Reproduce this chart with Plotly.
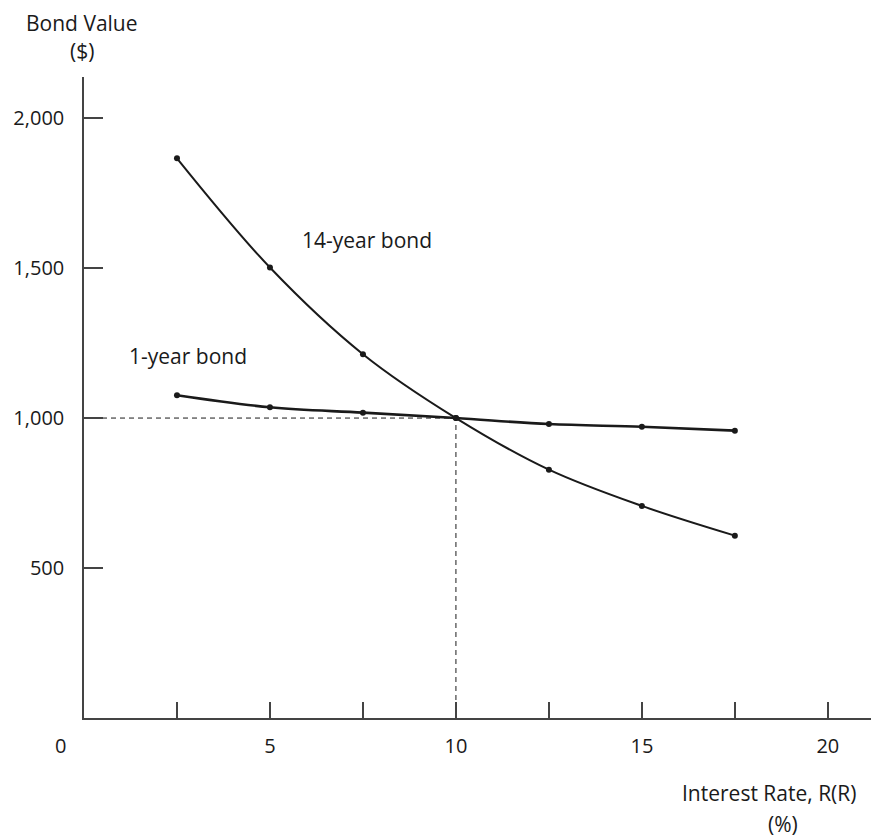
import plotly.graph_objects as go

rates = [2.5, 5, 7.5, 10, 12.5, 15, 17.5]
bond14 = [1866, 1502, 1213, 1000, 828, 707, 608]
bond1 = [1076, 1036, 1018, 1000, 980, 971, 958]

x_ticks = [2.5, 5, 7.5, 10, 12.5, 15, 17.5, 20]
x_ticktext = ["", "5", "", "10", "", "15", "", "20"]
y_ticks = [500, 1000, 1500, 2000]
y_ticktext = ["500", "1,000", "1,500", "2,000"]

par_rate = 10
par_value = 1000

FONT = "Open Sans"
INK = "#1a1a1a"
AX = "#444444"
TS = 20   # tick label size
LS = 21   # label size

# the page body adds an 8px offset; layout is expressed in figure pixels
OFF = 8
W, H = 881, 840
L, T = 84 - OFF, 77 - OFF
R = W - (871 - OFF)
B = H - (718 - OFF)

fig = go.Figure()

# dashed reference lines
fig.add_trace(go.Scatter(x=[0, par_rate], y=[par_value, par_value], mode="lines",
                         line=dict(color=INK, width=1, dash="5px,4px"),
                         hoverinfo="skip", showlegend=False))
fig.add_trace(go.Scatter(x=[par_rate, par_rate], y=[0, par_value], mode="lines",
                         line=dict(color=INK, width=1, dash="5px,4px"),
                         hoverinfo="skip", showlegend=False))

fig.add_trace(go.Scatter(x=rates, y=bond14, mode="lines+markers", name="14-year bond",
                         line=dict(color=INK, width=2, shape="spline", smoothing=1),
                         marker=dict(color=INK, size=6), showlegend=False))
fig.add_trace(go.Scatter(x=rates, y=bond1, mode="lines+markers", name="1-year bond",
                         line=dict(color=INK, width=2.6, shape="spline", smoothing=1),
                         marker=dict(color=INK, size=6), showlegend=False))

fig.update_layout(
    width=W, height=H,
    margin=dict(l=L, r=R, t=T, b=B),
    paper_bgcolor="white", plot_bgcolor="white",
    font=dict(family=FONT, size=TS, color=INK),
    xaxis=dict(range=[0, 21.16], showgrid=False, zeroline=False, automargin=False,
               showline=True, linecolor=AX, linewidth=1.5,
               ticks="inside", ticklen=16, tickwidth=1.5, tickcolor=AX,
               tickvals=x_ticks, ticktext=x_ticktext, ticklabelstandoff=9,
               tickfont=dict(family=FONT, size=TS, color=INK)),
    yaxis=dict(range=[0, 2137], showgrid=False, zeroline=False, automargin=False,
               showline=True, linecolor=AX, linewidth=1.5,
               ticks="inside", ticklen=19, tickwidth=1.5, tickcolor=AX,
               tickvals=y_ticks, ticktext=y_ticktext, ticklabelstandoff=14,
               tickfont=dict(family=FONT, size=TS, color=INK)),
    annotations=[
        dict(text="Bond Value", x=82, y=23, showarrow=False, font=dict(size=LS)),
        dict(text="($)", x=82, y=51, showarrow=False, font=dict(size=LS)),
        dict(text="Interest Rate, R(R)", x=769, y=793, showarrow=False, font=dict(size=LS)),
        dict(text="(%)", x=783, y=824, showarrow=False, font=dict(size=LS)),
        dict(text="0", x=60, y=745, showarrow=False, font=dict(size=TS)),
        dict(text="14-year bond", x=5.81, y=1593, xref="x", yref="y", xanchor="left",
             showarrow=False, font=dict(size=LS)),
        dict(text="1-year bond", x=1.16, y=1207, xref="x", yref="y", xanchor="left",
             showarrow=False, font=dict(size=LS)),
    ],
)

# convert screen-pixel-positioned annotations to paper coordinates
pw, ph = W - L - R, H - T - B
anns = list(fig.layout.annotations)
for a in anns:
    if a.xref != "x":
        px, py = a.x - OFF, a.y - OFF
        a.xref = "paper"
        a.yref = "paper"
        a.x = (px - L) / pw
        a.y = (H - B - py) / ph
        a.xanchor = "center"
        a.yanchor = "middle"
fig.layout.annotations = anns

fig.write_html("out.html")
